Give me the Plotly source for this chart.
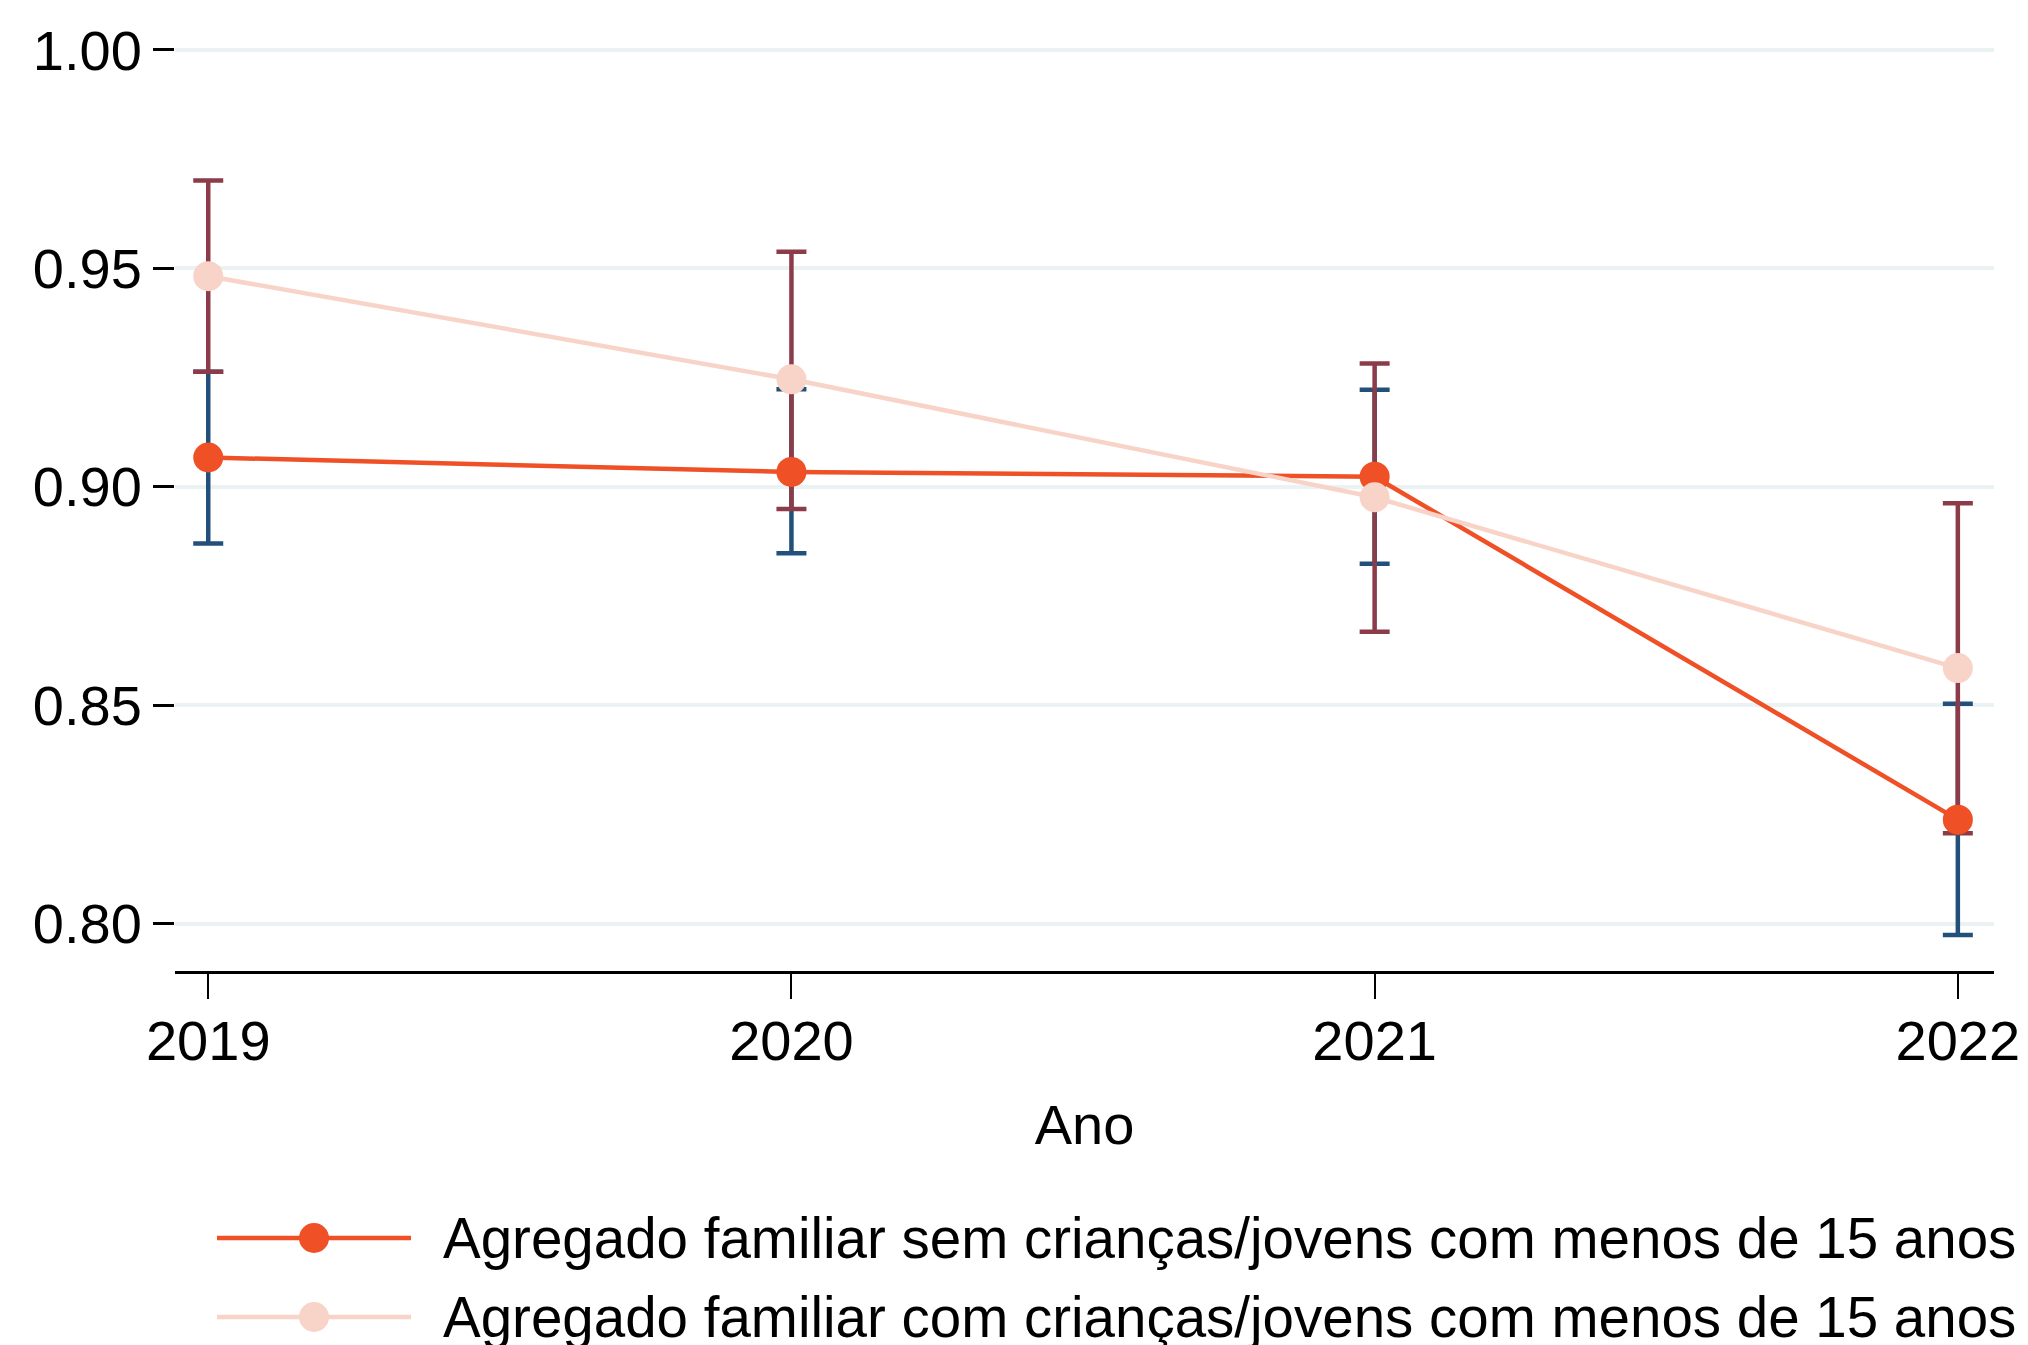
import plotly.graph_objects as go

# Survey years and estimated shares with 95% confidence bounds
years = [2019, 2020, 2021, 2022]

sem_mean = [0.9067, 0.9034, 0.9023, 0.8238]
sem_lo = [0.8870, 0.8848, 0.8824, 0.7974]
sem_hi = [0.9263, 0.9223, 0.9222, 0.8503]

com_mean = [0.9482, 0.9246, 0.8976, 0.8585]
com_lo = [0.9263, 0.8949, 0.8668, 0.8207]
com_hi = [0.9701, 0.9538, 0.9282, 0.8962]

y_ticks = [0.80, 0.85, 0.90, 0.95, 1.00]

labels = [
    "Agregado familiar sem crianças/jovens com menos de 15 anos",
    "Agregado familiar com crianças/jovens com menos de 15 anos",
]

RED = "#EF5026"
PINK = "#F8D3C8"
CI_SEM = "#23507A"
CI_COM = "#8C3C48"
FONT = "Liberation Sans, Arial, sans-serif"

W, H = 2028, 1345
ML, MR, MT, MB = 175, 34, 40, 374


def ci_trace(mean, lo, hi, color):
    return go.Scatter(
        x=years, y=mean, mode="markers",
        marker=dict(size=1, color="rgba(0,0,0,0)"),
        error_y=dict(
            type="data", symmetric=False,
            array=[h - m for h, m in zip(hi, mean)],
            arrayminus=[m - l for m, l in zip(mean, lo)],
            color=color, thickness=4.5, width=15,
        ),
        showlegend=False, hoverinfo="skip",
    )


fig = go.Figure()
# confidence intervals first, so the estimates sit on top
fig.add_trace(ci_trace(sem_mean, sem_lo, sem_hi, CI_SEM))
fig.add_trace(ci_trace(com_mean, com_lo, com_hi, CI_COM))
fig.add_trace(go.Scatter(
    x=years, y=sem_mean, mode="lines+markers", name=labels[0],
    line=dict(color=RED, width=4.5), marker=dict(color=RED, size=30),
    showlegend=False,
))
fig.add_trace(go.Scatter(
    x=years, y=com_mean, mode="lines+markers", name=labels[1],
    line=dict(color=PINK, width=4.5), marker=dict(color=PINK, size=30),
    showlegend=False,
))

plot_w = W - ML - MR
plot_h = H - MT - MB


def px_x(px):
    return (px - ML) / plot_w


def px_y(py):
    return (H - MB - py) / plot_h


# hand-built legend below the chart, with long line samples
shapes = []
annotations = []
for row_y, color, text in [(1238, RED, labels[0]), (1317, PINK, labels[1])]:
    yp = px_y(row_y)
    shapes.append(dict(type="line", xref="paper", yref="paper",
                       x0=px_x(217), x1=px_x(411), y0=yp, y1=yp,
                       line=dict(color=color, width=4.5)))
    shapes.append(dict(type="circle", xref="paper", yref="paper",
                       xsizemode="pixel", ysizemode="pixel",
                       xanchor=px_x(314), yanchor=yp,
                       x0=-15, x1=15, y0=-15, y1=15,
                       fillcolor=color, line=dict(width=0)))
    annotations.append(dict(xref="paper", yref="paper", x=px_x(441), y=yp,
                            xanchor="left", yanchor="middle", showarrow=False,
                            text=text, font=dict(size=56.5, color="black", family=FONT)))

fig.update_layout(
    width=W, height=H,
    margin=dict(l=ML, r=MR, t=MT, b=MB, autoexpand=False),
    paper_bgcolor="white", plot_bgcolor="white",
    font=dict(family=FONT, size=56, color="black"),
    shapes=shapes, annotations=annotations,
    showlegend=False,
)
fig.update_xaxes(
    range=[2018.943, 2022.062], automargin=False,
    tickvals=years, ticktext=[str(y) for y in years],
    showgrid=False, zeroline=False,
    showline=True, linecolor="black", linewidth=3,
    ticks="outside", ticklen=25, tickwidth=2, tickcolor="black",
    tickfont=dict(size=56), ticklabelstandoff=-6,
    title=dict(text="Ano", font=dict(size=56), standoff=34),
)
fig.update_yaxes(
    range=[0.78915, 1.00227], automargin=False,
    tickvals=y_ticks, tickformat=".2f",
    showgrid=True, gridcolor="#EAF2F3", gridwidth=4,
    zeroline=False, showline=False,
    ticks="outside", ticklen=21, tickwidth=3, tickcolor="black",
    tickfont=dict(size=56),
)

fig.write_html("out.html")
